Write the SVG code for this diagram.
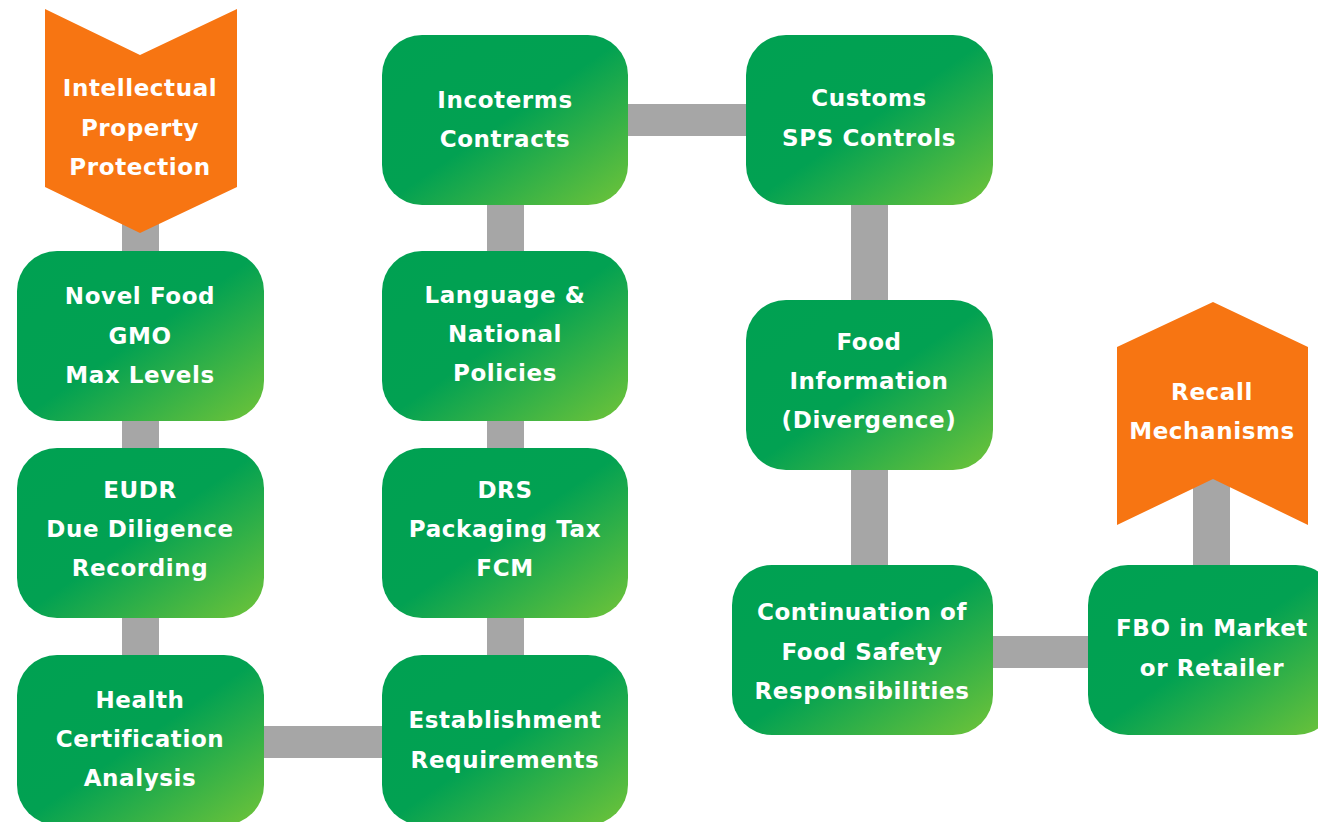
<svg xmlns="http://www.w3.org/2000/svg" width="1318" height="822" viewBox="0 0 1318 822">
<defs>
<linearGradient id="g" x1="0" y1="0" x2="1" y2="1">
<stop offset="0" stop-color="#00a152"/>
<stop offset="0.5" stop-color="#02a152"/>
<stop offset="1" stop-color="#70c439"/>
</linearGradient>
<style>
.box{fill:url(#g);}
.org{fill:#f77512;}
.bar{fill:#a6a6a6;}
text{font-family:"DejaVu Sans","Liberation Sans",sans-serif;font-weight:bold;font-size:23px;fill:#ffffff;text-anchor:middle;letter-spacing:0.6px;}
</style>
</defs>
<rect width="1318" height="822" fill="#ffffff"/>
<g id="connectors">
<rect class="bar" x="122" y="200" width="37" height="56"/>
<rect class="bar" x="122" y="415" width="37" height="40"/>
<rect class="bar" x="122" y="612" width="37" height="48"/>
<rect class="bar" x="260" y="726" width="126" height="32"/>
<rect class="bar" x="487" y="612" width="37" height="48"/>
<rect class="bar" x="487" y="415" width="37" height="40"/>
<rect class="bar" x="487" y="200" width="37" height="56"/>
<rect class="bar" x="624" y="104" width="126" height="32"/>
<rect class="bar" x="851" y="200" width="37" height="105"/>
<rect class="bar" x="851" y="465" width="37" height="105"/>
<rect class="bar" x="988" y="636" width="104" height="32"/>
<rect class="bar" x="1193" y="470" width="37" height="100"/>
</g>
<g id="ip">
<polygon class="org" points="45,9 140,55 237,9 237,187 140,233 45,187"/>
<text x="140" y="96">Intellectual</text>
<text x="140" y="136">Property</text>
<text x="140" y="175">Protection</text>
</g>
<g id="novel">
<rect class="box" x="17" y="251" width="247" height="170" rx="40"/>
<text x="140" y="304">Novel Food</text>
<text x="140" y="344">GMO</text>
<text x="140" y="383">Max Levels</text>
</g>
<g id="eudr">
<rect class="box" x="17" y="448" width="247" height="170" rx="40"/>
<text x="140" y="498">EUDR</text>
<text x="140" y="537">Due Diligence</text>
<text x="140" y="576">Recording</text>
</g>
<g id="health">
<rect class="box" x="17" y="655" width="247" height="170" rx="40"/>
<text x="140" y="708">Health</text>
<text x="140" y="747">Certification</text>
<text x="140" y="786">Analysis</text>
</g>
<g id="establishment">
<rect class="box" x="382" y="655" width="246" height="170" rx="40"/>
<text x="505" y="728">Establishment</text>
<text x="505" y="768">Requirements</text>
</g>
<g id="drs">
<rect class="box" x="382" y="448" width="246" height="170" rx="40"/>
<text x="505" y="498">DRS</text>
<text x="505" y="537">Packaging Tax</text>
<text x="505" y="576">FCM</text>
</g>
<g id="language">
<rect class="box" x="382" y="251" width="246" height="170" rx="40"/>
<text x="505" y="303">Language &amp;</text>
<text x="505" y="342">National</text>
<text x="505" y="381">Policies</text>
</g>
<g id="incoterms">
<rect class="box" x="382" y="35" width="246" height="170" rx="40"/>
<text x="505" y="108">Incoterms</text>
<text x="505" y="147">Contracts</text>
</g>
<g id="customs">
<rect class="box" x="746" y="35" width="247" height="170" rx="40"/>
<text x="869" y="106">Customs</text>
<text x="869" y="146">SPS Controls</text>
</g>
<g id="foodinfo">
<rect class="box" x="746" y="300" width="247" height="170" rx="40"/>
<text x="869" y="350">Food</text>
<text x="869" y="389">Information</text>
<text x="869" y="428">(Divergence)</text>
</g>
<g id="continuation">
<rect class="box" x="732" y="565" width="261" height="170" rx="40"/>
<text x="862" y="620">Continuation of</text>
<text x="862" y="660">Food Safety</text>
<text x="862" y="699">Responsibilities</text>
</g>
<g id="fbo">
<rect class="box" x="1088" y="565" width="248" height="170" rx="40"/>
<text x="1212" y="636">FBO in Market</text>
<text x="1212" y="676">or Retailer</text>
</g>
<g id="recall">
<polygon class="org" points="1117,347 1213,302 1308,347 1308,525 1213,479 1117,525"/>
<text x="1212" y="400">Recall</text>
<text x="1212" y="439">Mechanisms</text>
</g>
</svg>
